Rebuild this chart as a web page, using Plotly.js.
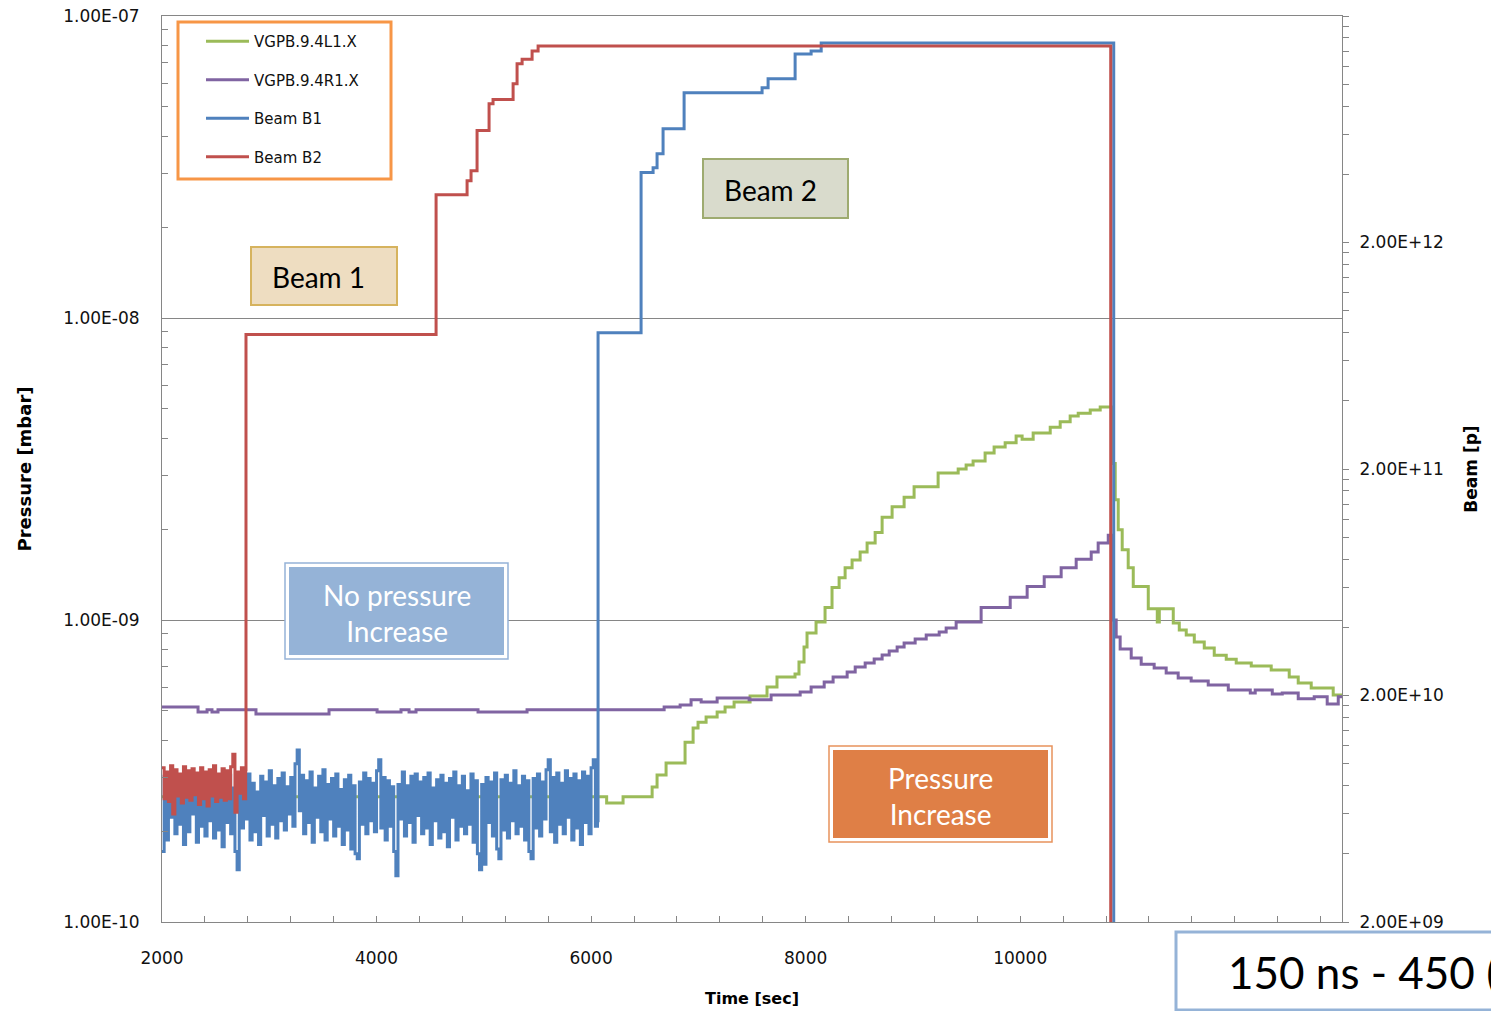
<!DOCTYPE html>
<html>
<head>
<meta charset="utf-8">
<script src="https://cdn.plot.ly/plotly-3.0.1.min.js"></script>
<style>
  html, body { margin: 0; padding: 0; background: #ffffff; }
  #chart { width: 1491px; height: 1011px; }
</style>
</head>
<body>
<div id="chart"></div>
<script>
// ---------------- DATA ----------------
// Pressure gauge VGPB.9.4L1.X (left axis, mbar), step data
const timeL1 = [2000, 6145, 6298, 6569, 6615, 6699, 6876, 6951, 6997, 7072, 7175, 7249, 7333, 7482, 7640, 7733, 7901, 7938, 7985, 8013, 8097, 8181, 8246, 8312, 8368, 8433, 8508, 8573, 8648, 8713, 8806, 8918, 9011, 9235, 9422, 9496, 9561, 9673, 9757, 9860, 9962, 10018, 10121, 10280, 10373, 10466, 10541, 10653, 10746, 10858, 10886, 10914, 10951, 11007, 11054, 11194, 11278, 11297, 11427, 11483, 11548, 11623, 11716, 11809, 11921, 12014, 12154, 12340, 12508, 12592, 12713, 12918, 13000];
const pressureL1 = [2.6e-10, 2.48e-10, 2.6e-10, 2.8e-10, 3.07e-10, 3.36e-10, 3.94e-10, 4.39e-10, 4.59e-10, 4.77e-10, 4.96e-10, 5.15e-10, 5.35e-10, 5.6e-10, 6.0e-10, 6.47e-10, 6.62e-10, 7.26e-10, 8.14e-10, 9.06e-10, 9.85e-10, 1.10e-9, 1.28e-9, 1.38e-9, 1.49e-9, 1.58e-9, 1.68e-9, 1.80e-9, 1.95e-9, 2.19e-9, 2.37e-9, 2.55e-9, 2.76e-9, 3.07e-9, 3.16e-9, 3.26e-9, 3.36e-9, 3.57e-9, 3.74e-9, 3.86e-9, 4.07e-9, 3.97e-9, 4.16e-9, 4.35e-9, 4.53e-9, 4.74e-9, 4.84e-9, 4.96e-9, 5.07e-9, 3.3e-9, 2.5e-9, 1.99e-9, 1.71e-9, 1.49e-9, 1.29e-9, 1.09e-9, 9.85e-10, 1.09e-9, 9.77e-10, 9.27e-10, 8.92e-10, 8.45e-10, 8.07e-10, 7.65e-10, 7.42e-10, 7.2e-10, 7.04e-10, 6.83e-10, 6.47e-10, 6.18e-10, 5.95e-10, 5.65e-10, 5.6e-10];

// Pressure gauge VGPB.9.4R1.X (left axis, mbar), step data
const timeR1 = [2000, 2336, 2420, 2466, 2522, 2876, 3557, 4005, 4228, 4303, 4368, 4946, 5403, 6681, 6830, 6932, 7026, 7175, 7473, 7678, 7949, 8051, 8173, 8256, 8387, 8462, 8555, 8639, 8713, 8779, 8853, 8918, 9021, 9124, 9245, 9310, 9403, 9636, 9907, 10065, 10224, 10382, 10522, 10662, 10727, 10821, 10867, 10895, 10932, 11035, 11128, 11249, 11361, 11473, 11594, 11753, 11940, 12145, 12191, 12350, 12443, 12592, 12741, 12862, 12965, 13000];
const pressureR1 = [5.15e-10, 4.96e-10, 5.04e-10, 4.96e-10, 5.04e-10, 4.88e-10, 5.04e-10, 4.96e-10, 5.04e-10, 4.96e-10, 5.04e-10, 4.96e-10, 5.04e-10, 5.15e-10, 5.23e-10, 5.44e-10, 5.35e-10, 5.52e-10, 5.44e-10, 5.65e-10, 5.78e-10, 6.0e-10, 6.23e-10, 6.47e-10, 6.73e-10, 6.99e-10, 7.21e-10, 7.43e-10, 7.66e-10, 7.89e-10, 8.14e-10, 8.39e-10, 8.65e-10, 8.92e-10, 9.12e-10, 9.41e-10, 9.85e-10, 1.10e-9, 1.19e-9, 1.29e-9, 1.39e-9, 1.49e-9, 1.59e-9, 1.68e-9, 1.80e-9, 1.91e-9, 1.0e-9, 8.79e-10, 8.02e-10, 7.48e-10, 7.14e-10, 6.93e-10, 6.68e-10, 6.43e-10, 6.28e-10, 6.09e-10, 5.86e-10, 5.73e-10, 5.86e-10, 5.69e-10, 5.73e-10, 5.49e-10, 5.57e-10, 5.27e-10, 5.57e-10, 5.57e-10];

// Beam intensities (right axis, protons). Before injection the signal is logger noise,
// sampled every noiseStep seconds from noiseStart.
const noiseStart = 2000;
const noiseStep = 20;
const beamB1Noise = [
  4.1e9, 8.8e9, 4.6e9, 8.2e9, 5.8e9, 9.0e9, 4.9e9, 7.6e9, 5.4e9, 8.6e9,
  4.4e9, 8.0e9, 5.0e9, 9.2e9, 6.0e9, 8.4e9, 4.5e9, 7.9e9, 5.3e9, 8.7e9,
  4.8e9, 8.3e9, 5.6e9, 9.1e9, 4.7e9, 7.7e9, 5.1e9, 8.5e9, 4.3e9, 8.1e9,
  5.5e9, 8.9e9, 4.9e9, 7.8e9, 4.1e9, 3.4e9, 8.0e9, 5.2e9, 8.6e9, 5.7e9,
  9.0e9, 4.6e9, 8.2e9, 5.0e9, 7.5e9, 4.4e9, 8.8e9, 5.9e9, 8.3e9, 4.8e9,
  9.3e9, 5.4e9, 8.0e9, 4.7e9, 8.6e9, 5.6e9, 9.1e9, 5.1e9, 7.9e9, 6.0e9,
  8.7e9, 5.3e9, 10.0e9, 11.5e9, 6.2e9, 8.9e9, 4.9e9, 8.4e9, 5.5e9, 9.2e9,
  4.5e9, 7.8e9, 5.8e9, 8.8e9, 5.0e9, 9.4e9, 4.6e9, 8.1e9, 5.7e9, 8.6e9,
  4.8e9, 9.0e9, 5.3e9, 7.7e9, 4.4e9, 8.5e9, 5.1e9, 8.9e9, 4.2e9, 8.0e9,
  4.0e9, 3.8e9, 8.3e9, 5.4e9, 9.1e9, 4.9e9, 8.6e9, 5.6e9, 8.2e9, 5.0e9,
  9.3e9, 10.4e9, 5.2e9, 8.7e9, 4.6e9, 8.4e9, 5.3e9, 7.9e9, 4.1e9, 3.2e9,
  8.1e9, 5.7e9, 9.2e9, 4.8e9, 8.0e9, 5.5e9, 8.8e9, 4.5e9, 9.0e9, 5.9e9,
  8.3e9, 4.9e9, 8.7e9, 5.2e9, 9.1e9, 4.4e9, 7.8e9, 5.6e9, 8.5e9, 4.7e9,
  8.9e9, 5.0e9, 8.2e9, 4.3e9, 8.6e9, 5.8e9, 9.2e9, 4.6e9, 8.0e9, 5.3e9,
  8.8e9, 4.9e9, 7.6e9, 5.4e9, 9.0e9, 4.5e9, 8.4e9, 4.0e9, 3.4e9, 8.1e9,
  3.6e9, 8.7e9, 5.5e9, 8.3e9, 4.8e9, 9.1e9, 4.2e9, 3.8e9, 8.5e9, 5.1e9,
  8.9e9, 4.7e9, 8.2e9, 5.6e9, 9.3e9, 4.9e9, 8.0e9, 5.3e9, 8.8e9, 4.6e9,
  8.4e9, 4.1e9, 3.8e9, 8.6e9, 5.2e9, 9.0e9, 4.8e9, 8.3e9, 5.7e9, 9.4e9,
  10.4e9, 5.0e9, 8.7e9, 4.5e9, 9.1e9, 5.4e9, 8.2e9, 4.9e9, 9.3e9, 5.8e9,
  8.6e9, 4.6e9, 9.0e9, 5.2e9, 8.4e9, 4.4e9, 9.2e9, 5.5e9, 8.8e9, 4.9e9,
  9.6e9, 10.4e9, 5.3e9, 5.6e9
];
const beamB1Time  = [6065, 6466, 6578, 6615, 6671, 6867, 7594, 7650, 7902, 8051, 8145, 10872];
const beamB1Value = [8.0e11, 4.07e12, 4.28e12, 4.93e12, 6.36e12, 9.17e12, 9.64e12, 1.056e13, 1.36e13, 1.40e13, 1.52e13, 1e9];

const beamB2Noise = [
  9.6e9, 7.0e9, 9.2e9, 6.8e9, 9.8e9, 6.0e9, 9.4e9, 7.2e9, 9.0e9, 6.7e9,
  9.7e9, 7.1e9, 9.3e9, 6.9e9, 9.5e9, 7.3e9, 9.1e9, 6.6e9, 9.6e9, 7.0e9,
  9.2e9, 6.5e9, 9.4e9, 7.2e9, 9.8e9, 6.8e9, 9.0e9, 7.1e9, 9.5e9, 6.9e9,
  9.3e9, 7.0e9, 9.7e9, 11.0e9, 6.1e9, 9.2e9, 7.4e9, 9.6e9, 7.0e9, 9.4e9
];
const beamB2Time  = [2783, 4555, 4844, 4881, 4937, 5049, 5086, 5273, 5310, 5357, 5450, 5506, 10844];
const beamB2Value = [7.85e11, 3.25e12, 3.75e12, 4.15e12, 6.24e12, 8.2e12, 8.55e12, 1.005e13, 1.23e13, 1.29e13, 1.40e13, 1.476e13, 1e9];

// Series names and tick labels (the 12000 label is hidden under the text box in the reference)
const seriesNames = ['VGPB.9.4L1.X', 'VGPB.9.4R1.X', 'Beam B1', 'Beam B2'];
const pressureTicks = [1e-10, 1e-9, 1e-8, 1e-7];
const pressureTickText = ['1.00E-10', '1.00E-09', '1.00E-08', '1.00E-07'];
const beamTicks = [2e9, 2e10, 2e11, 2e12];
const beamTickText = ['2.00E+09', '2.00E+10', '2.00E+11', '2.00E+12'];
const timeTicks = [2000, 4000, 6000, 8000, 10000];
const timeTickText = ['2000', '4000', '6000', '8000', '10000'];

// ---------------- BUILD ----------------
const noiseTimes = arr => arr.map((_, i) => noiseStart + i * noiseStep);
const b1x = noiseTimes(beamB1Noise).concat(beamB1Time);
const b1y = beamB1Noise.concat(beamB1Value);
const b2x = noiseTimes(beamB2Noise).concat(beamB2Time);
const b2y = beamB2Noise.concat(beamB2Value);

const colors = ['#9BBB59', '#8064A2', '#4F81BD', '#C0504D'];
function stepTrace(i, x, y, axis) {
  return {
    type: 'scatter', mode: 'lines', name: seriesNames[i], x: x, y: y, yaxis: axis,
    line: { color: colors[i], width: 3, shape: 'hv' },
    legendgroup: 'g' + i, hoverinfo: 'x+y+name'
  };
}
const traces = [
  stepTrace(0, timeL1, pressureL1, 'y'),
  stepTrace(1, timeR1, pressureR1, 'y'),
  stepTrace(2, b1x, b1y, 'y2'),
  stepTrace(3, b2x, b2y, 'y2')
];

// minor tick positions
const pressureMinor = [];
[-10, -9, -8].forEach(e => { for (let k = 2; k <= 9; k++) pressureMinor.push(k * Math.pow(10, e)); });
const beamMinor = [];
[2e9, 2e10, 2e11, 2e12].forEach(b => { for (let k = 2; k <= 9; k++) beamMinor.push(k * b); });
beamMinor.push(2e13);
const timeMinor = [];
for (let t = 2400; t <= 13000; t += 400) if (timeTicks.indexOf(t) < 0) timeMinor.push(t);

// ---------------- LAYOUT ----------------
const M = { l: 162, r: 149, t: 16, b: 89 };
const PW = 1491 - M.l - M.r, PH = 1011 - M.t - M.b;
const fx = p => (p - M.l) / PW;
const fy = p => (M.t + PH - p) / PH;
const axisGray = '#868686';
const tickFont = { family: 'DejaVu Sans, Liberation Sans, sans-serif', size: 17, color: '#111111' };
const titleFont = sz => ({ family: 'DejaVu Sans, Liberation Sans, sans-serif', size: sz, color: '#000000', weight: 'bold' });
const boxFont = (sz, c) => ({ family: 'Lato, Open Sans, sans-serif', size: sz, color: c });

function rect(x0, y0, x1, y1, fill, line, lw) {
  return { type: 'rect', xref: 'paper', yref: 'paper', x0: fx(x0), x1: fx(x1), y0: fy(y1), y1: fy(y0),
           fillcolor: fill, line: { color: line, width: lw }, layer: 'above' };
}
function label(xc, yc, text, font, anchor) {
  return { xref: 'paper', yref: 'paper', x: fx(xc), y: fy(yc), text: text, showarrow: false,
           xanchor: anchor || 'center', yanchor: 'middle', font: font, align: 'center' };
}

const layout = {
  width: 1491, height: 1011,
  margin: M,
  paper_bgcolor: '#ffffff', plot_bgcolor: '#ffffff',
  showlegend: true,
  legend: {
    x: fx(201), xanchor: 'left', y: fy(25), yanchor: 'top',
    bgcolor: 'rgba(0,0,0,0)', borderwidth: 0, tracegroupgap: 16, itemwidth: 43,
    font: { family: 'DejaVu Sans, sans-serif', size: 15, color: '#111111' }
  },
  xaxis: {
    range: [2000, 13000], tickmode: 'array', tickvals: timeTicks, ticktext: timeTickText,
    ticks: 'inside', ticklen: 6, tickcolor: axisGray, tickfont: tickFont, ticklabelstandoff: 21,
    showline: true, linecolor: axisGray, linewidth: 1, mirror: true,
    showgrid: false, zeroline: false,
    minor: { tickmode: 'array', tickvals: timeMinor, ticks: 'inside', ticklen: 6, tickcolor: axisGray, showgrid: false },
    title: { text: 'Time [sec]', font: titleFont(16), standoff: 25 }
  },
  yaxis: {
    type: 'log', range: [-10, -7], tickmode: 'array', tickvals: pressureTicks, ticktext: pressureTickText,
    ticks: 'inside', ticklen: 6, tickcolor: axisGray, tickfont: tickFont, ticklabelstandoff: 18,
    showline: true, linecolor: axisGray, linewidth: 1,
    showgrid: true, gridcolor: axisGray, gridwidth: 1, zeroline: false,
    minor: { tickmode: 'array', tickvals: pressureMinor, ticks: 'inside', ticklen: 6, tickcolor: axisGray, showgrid: false },
    title: { text: 'Pressure [mbar]', font: titleFont(18), standoff: 26 }
  },
  yaxis2: {
    type: 'log', overlaying: 'y', side: 'right',
    range: [Math.log10(2e9), Math.log10(2e13)], tickmode: 'array', tickvals: beamTicks, ticktext: beamTickText,
    ticks: 'outside', ticklen: 6, tickcolor: axisGray, tickfont: tickFont, ticklabelstandoff: 7,
    showline: true, linecolor: axisGray, linewidth: 1, showgrid: false, zeroline: false,
    minor: { tickmode: 'array', tickvals: beamMinor, ticks: 'outside', ticklen: 6, tickcolor: axisGray, showgrid: false },
    title: { text: 'Beam [p]', font: titleFont(17), standoff: 22 }
  },
  shapes: [
    rect(178, 22, 391, 179, '#ffffff', '#F79646', 3),
    rect(251, 247, 397, 305, '#EEDDC1', '#D6B35E', 2),
    rect(703, 159, 848, 218, '#D9DBCC', '#9EAB70', 2),
    rect(285, 563, 508, 659, '#ffffff', '#95B3D7', 1.5),
    rect(289, 567, 504, 655, '#95B3D7', 'rgba(0,0,0,0)', 0),
    rect(829, 746, 1052, 842, '#ffffff', '#E8925C', 1.5),
    rect(833, 750, 1048, 838, '#DF7F46', 'rgba(0,0,0,0)', 0),
    rect(1176, 932, 1500, 1010, '#ffffff', '#95B3D7', 3)
  ],
  annotations: [
    label(318, 277, 'Beam 1', boxFont(28, '#000000')),
    label(770, 190, 'Beam 2', boxFont(28, '#000000')),
    label(396.5, 613, 'No pressure<br>Increase', boxFont(28, '#ffffff')),
    label(940.5, 796, 'Pressure<br>Increase', boxFont(28, '#ffffff')),
    label(1226, 972, '150 ns - 450 (', boxFont(44, '#000000'), 'left')
  ]
};

Plotly.newPlot('chart', traces, layout, { displayModeBar: false, staticPlot: true });
</script>
</body>
</html>
